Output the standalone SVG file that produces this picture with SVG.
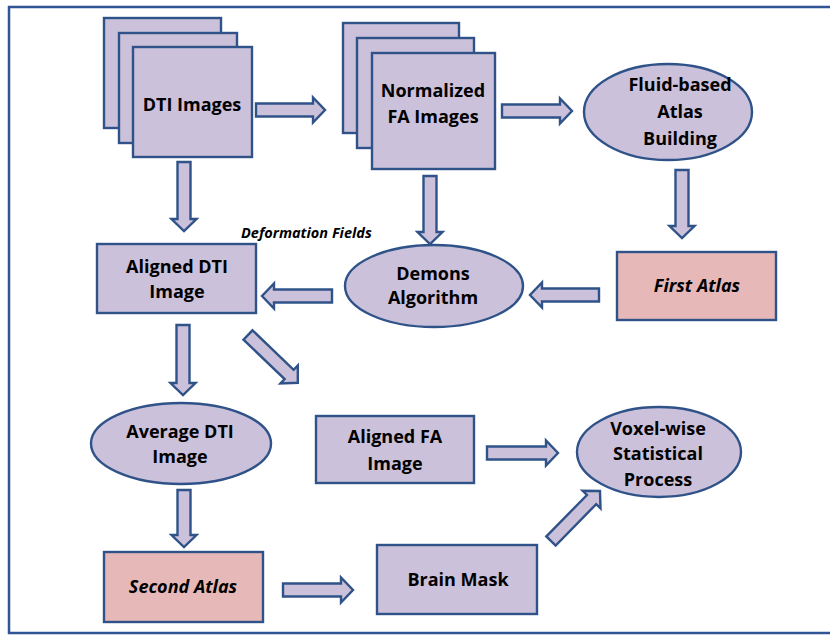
<svg xmlns="http://www.w3.org/2000/svg" width="830" height="635" viewBox="0 0 830 635">
<style>
.n{fill:#CCC1DA;stroke:#2F5389;stroke-width:2.4}
.p{fill:#E6B9B8;stroke:#2F5389;stroke-width:2.4}
.a{fill:#CCC1DA;stroke:#2F5389;stroke-width:2.4;stroke-linejoin:miter}
text{font-family:"Open Sans",Lato,"Liberation Sans",sans-serif;font-weight:bold;font-size:18px;fill:#000;text-anchor:middle}
.i{font-style:italic}
.s{font-size:14.5px;text-anchor:start}
</style>
<rect x="9" y="7" width="830" height="626" fill="#fff" stroke="#2F5597" stroke-width="2.5"/>
<g id="dti-images">
<rect class="n" x="104" y="18" width="117" height="110"/>
<rect class="n" x="119" y="33" width="118" height="110"/>
<rect class="n" x="133" y="47" width="119" height="110"/>
<text x="192" y="111">DTI Images</text>
</g>
<g id="normalized-fa">
<rect class="n" x="343" y="23" width="116" height="110"/>
<rect class="n" x="357" y="38" width="117" height="110"/>
<rect class="n" x="372" y="53" width="123" height="116"/>
<text x="433" y="97">Normalized</text>
<text x="433" y="123">FA Images</text>
</g>
<g id="fluid-atlas">
<ellipse class="n" cx="668" cy="112" rx="84" ry="48"/>
<text x="680" y="91">Fluid-based</text>
<text x="680" y="118">Atlas</text>
<text x="680" y="145">Building</text>
</g>
<g id="first-atlas">
<rect class="p" x="617" y="252" width="159" height="68"/>
<text class="i" x="697" y="292">First Atlas</text>
</g>
<g id="demons">
<ellipse class="n" cx="434" cy="286" rx="89" ry="41"/>
<text x="433" y="280">Demons</text>
<text x="433" y="304">Algorithm</text>
</g>
<g id="aligned-dti">
<rect class="n" x="97" y="244" width="159" height="69"/>
<text x="177" y="273">Aligned DTI</text>
<text x="177" y="298">Image</text>
</g>
<g id="average-dti">
<ellipse class="n" cx="181" cy="443.5" rx="90" ry="40.5"/>
<text x="180" y="438">Average DTI</text>
<text x="180" y="463">Image</text>
</g>
<g id="second-atlas">
<rect class="p" x="104" y="552" width="159" height="70"/>
<text class="i" x="183" y="593">Second Atlas</text>
</g>
<g id="aligned-fa">
<rect class="n" x="316" y="416" width="158" height="67"/>
<text x="395" y="443">Aligned FA</text>
<text x="395" y="470">Image</text>
</g>
<g id="brain-mask">
<rect class="n" x="377" y="545" width="160" height="69"/>
<text x="458" y="586">Brain Mask</text>
</g>
<g id="voxel-wise">
<ellipse class="n" cx="659" cy="452" rx="82" ry="45"/>
<text x="658" y="435">Voxel-wise</text>
<text x="658" y="460">Statistical</text>
<text x="658" y="486">Process</text>
</g>
<g id="label-deformation">
<text class="i s" x="241" y="238">Deformation Fields</text>
</g>
<g id="connectors">
<path class="a" transform="translate(256,110)" d="M0,-6.5H57V-12.5L69,0L57,12.5V6.5H0Z"/>
<path class="a" transform="translate(502,111)" d="M0,-6.5H58V-12.5L70,0L58,12.5V6.5H0Z"/>
<path class="a" transform="translate(682,170) rotate(90)" d="M0,-6.5H56V-12.5L68,0L56,12.5V6.5H0Z"/>
<path class="a" transform="translate(599,295) rotate(180)" d="M0,-6.5H57V-12.5L69,0L57,12.5V6.5H0Z"/>
<path class="a" transform="translate(430,176) rotate(90)" d="M0,-6.5H56V-12.5L68,0L56,12.5V6.5H0Z"/>
<path class="a" transform="translate(332,296) rotate(180)" d="M0,-6.5H58V-12.5L70,0L58,12.5V6.5H0Z"/>
<path class="a" transform="translate(184,162) rotate(90)" d="M0,-6.5H57V-12.5L69,0L57,12.5V6.5H0Z"/>
<path class="a" transform="translate(183,325) rotate(90)" d="M0,-6.5H58V-12.5L70,0L58,12.5V6.5H0Z"/>
<path class="a" transform="translate(248,335) rotate(43.8)" d="M0,-6.5H57V-12.5L69,0L57,12.5V6.5H0Z"/>
<path class="a" transform="translate(184,490) rotate(90)" d="M0,-6.5H45V-12.5L57,0L45,12.5V6.5H0Z"/>
<path class="a" transform="translate(283,590)" d="M0,-6.5H58V-12.5L70,0L58,12.5V6.5H0Z"/>
<path class="a" transform="translate(487,453)" d="M0,-6.5H59V-12.5L71,0L59,12.5V6.5H0Z"/>
<path class="a" transform="translate(551,541) rotate(-45.6)" d="M0,-6.5H58V-12.5L70,0L58,12.5V6.5H0Z"/>
</g>
</svg>
